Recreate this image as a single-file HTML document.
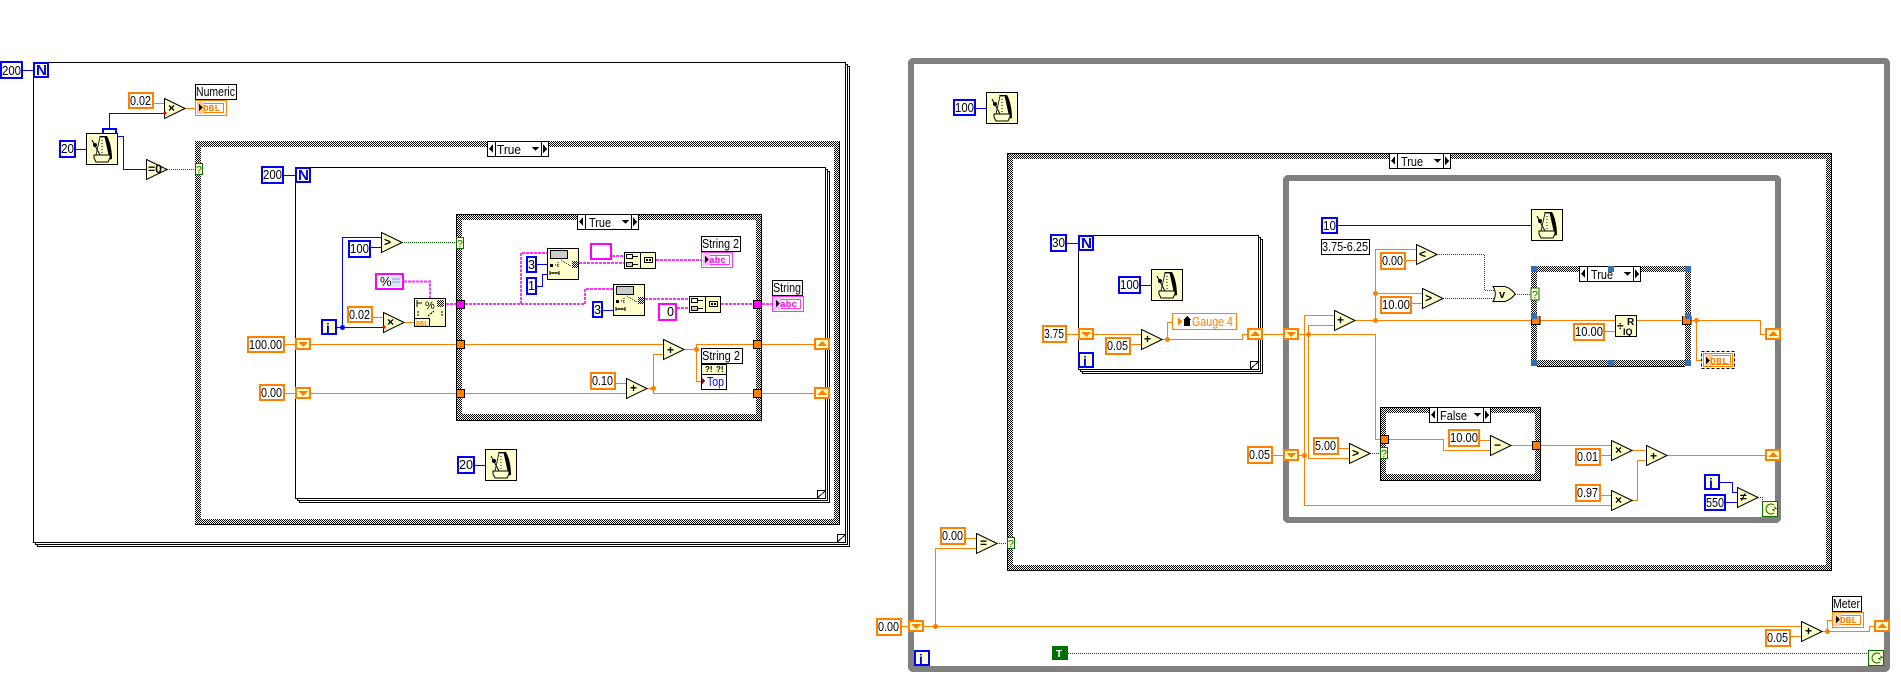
<!DOCTYPE html>
<html><head><meta charset="utf-8"><style>
html,body{margin:0;padding:0;background:#fff;width:1901px;height:697px;overflow:hidden}
svg{display:block}
text{font-family:"Liberation Sans",sans-serif;font-size:13px;fill:#000}
.b{fill:none;stroke:#0000ff;stroke-width:1}
.o{fill:none;stroke:#ff8000;stroke-width:1}
.g{fill:none;stroke:#006400;stroke-width:1;stroke-dasharray:1 1}
.s{fill:none;stroke:#ff33ff;stroke-width:2;stroke-dasharray:3 1}
.co{fill:#fff;stroke:#ff8000;stroke-width:2}
.cb{fill:#fff;stroke:#0000ff;stroke-width:2}
.cp{fill:#fff;stroke:#ff00ff;stroke-width:2}
.n{fill:#ffffcc;stroke:#0000ff;stroke-width:2}
.l{fill:#fff;stroke:#000;stroke-width:1}
.d{fill:#ff8000}
.t{fill:#fff;stroke:#000;stroke-width:1}
.tg{fill:#ffffcc;stroke:#007000;stroke-width:1}
.ct{fill:url(#chk);fill-rule:evenodd}
.bl{fill:none;stroke:#000;stroke-width:1}
.h{fill:#3070c0}
.tri{font-weight:bold;font-size:12px}
.blu{fill:#0000ff;font-weight:bold;font-size:15px}
.dbl{fill:#ff8000;font-weight:bold;font-size:9px;font-family:"Liberation Mono",monospace}
.abc{fill:#ff00ff;font-weight:bold;font-size:9px;font-family:"Liberation Mono",monospace}
</style></head><body>
<svg width="1901" height="697" viewBox="0 0 1901 697" xmlns="http://www.w3.org/2000/svg" shape-rendering="crispEdges">
<defs>
<pattern id="chk" width="2" height="2" patternUnits="userSpaceOnUse">
<rect width="2" height="2" fill="#fff"/><rect width="1" height="1" fill="#000"/><rect x="1" y="1" width="1" height="1" fill="#000"/>
</pattern>
<symbol id="tri" width="22" height="22" viewBox="0 0 22 22"><polygon points="0.5,0.5 21,10.5 0.5,20.5" fill="#ffffcc" stroke="#000" shape-rendering="auto"/></symbol>
<symbol id="met" width="32" height="32" viewBox="0 0 32 32">
<rect x=".5" y=".5" width="31" height="31" fill="#ffffcc" stroke="#000"/>
<g shape-rendering="auto">
<path d="M13 3H21C24 8 26 17 26 26L22 27C22 18 21 10 17 4L15 5Z" fill="#000"/>
<path d="M14 4L10 22H23L19 4Z" fill="#ffffcc" stroke="#000" stroke-width=".8"/>
<path d="M16 7V20" stroke="#000" stroke-dasharray="1 2" fill="none"/>
<path d="M6 7L14 22" stroke="#000" fill="none"/><circle cx="9" cy="12" r="2" fill="#000"/>
<path d="M8 22H24V25L22 29H10L8 25Z" fill="#ffffcc" stroke="#000"/>
</g></symbol>
<symbol id="sd" width="16" height="12" viewBox="0 0 16 12"><rect x="1" y="1" width="14" height="10" fill="#ffffcc" stroke="#ff8000" stroke-width="2"/><polygon points="3,4 13,4 8,9" fill="#ff8000"/></symbol>
<symbol id="su" width="16" height="12" viewBox="0 0 16 12"><rect x="1" y="1" width="14" height="10" fill="#ffffcc" stroke="#ff8000" stroke-width="2"/><polygon points="3,8 13,8 8,3" fill="#ff8000"/></symbol>
<symbol id="sel" width="62" height="16" viewBox="0 0 62 16"><rect x=".5" y=".5" width="61" height="15" fill="#fff" stroke="#000"/><path d="M8.5 0V16M54.5 0V16" stroke="#000"/><polygon points="6,3 6,12 2,8" fill="#000"/><polygon points="56,3 56,12 60,8" fill="#000"/><polygon points="45,6 52,6 48.5,10" fill="#000"/></symbol>
<symbol id="sub" width="32" height="32" viewBox="0 0 32 32"><rect x=".5" y=".5" width="31" height="31" fill="#ffffcc" stroke="#000"/><rect x="3.5" y="2.5" width="17" height="8" fill="#ccc" stroke="#000"/><rect x="3" y="16" width="3" height="3" fill="#000"/><path d="M8 17H12M11 14V19M14 12L24 18" stroke="#000" stroke-dasharray="1 1"/><rect x="25" y="13" width="6" height="7" fill="url(#chk)"/><path d="M3 25H12M3 23V27M12 23V27M6 24V26M9 24V26" stroke="#000"/></symbol>
<symbol id="con" width="32" height="17" viewBox="0 0 32 17"><rect x=".5" y=".5" width="31" height="16" fill="#ffffcc" stroke="#000"/><path d="M16.5 0V17" stroke="#000"/><rect x="2.5" y="2.5" width="6" height="4" fill="#fff" stroke="#000"/><rect x="2.5" y="10.500" width="6" height="4" fill="#ccc" stroke="#000"/><path d="M9 4.500H14M9 12.500H14" stroke="#000"/><rect x="20.500" y="5.500" width="8" height="5" fill="#ffffcc" stroke="#000"/><rect x="22" y="7" width="2" height="2" fill="#000"/><rect x="25" y="7" width="2" height="2" fill="#000"/></symbol>
<symbol id="stop" width="16" height="16" viewBox="0 0 16 16"><rect x=".5" y=".5" width="15" height="15" fill="#ffffcc" stroke="#007000"/><path d="M12 4A5 5 0 1 0 12 12" stroke="#007000" fill="none" shape-rendering="auto"/><polygon points="10,8 15,8 12.5,5 12.5,11" fill="#007000"/></symbol>
</defs>

<!-- LEFT DIAGRAM -->
<rect class="t" x="37.5" y="66.5" width="812" height="480"/><rect class="t" x="35.5" y="64.5" width="812" height="480"/><rect class="t" x="33.5" y="62.5" width="812" height="480"/>
<path class="bl" d="M837.500 542V534.500H845.500L837.500 542"/>
<path class="ct" d="M195 141H840V525H195ZM201 147V519H834V147Z"/>
<path class="bl" d="M839.500 141V524.500H195"/>
<rect class="t" x="299.500" y="171.500" width="530" height="331"/><rect class="t" x="297.500" y="169.500" width="530" height="331"/><rect class="t" x="295.500" y="167.500" width="530" height="331"/>
<path class="bl" d="M817.500 498V490.500H825.500L817.500 498"/>
<path class="ct" d="M456 214H762V420H456ZM462 220V414H756V220Z"/>
<rect class="bl" x="456.500" y="214.500" width="305" height="206"/>

<path class="b" d="M22 70.500H33M76 149.500H86M109.500 128V113.500H164M117 136.500H123.500V169.500H146"/>
<path class="o" d="M154 103.500H164M185 108.500H195"/>
<path class="g" d="M167 169.500H195"/>
<path class="b" d="M283 175.500H295M381 237.500H342.500V327.500H383M321 327.500H342M370 247.500H381M475 465.500H485"/>
<path class="g" d="M402 242.500H456"/>
<path class="o" d="M372 317.500H383M404 322.500H414M285 344.500H295M285 393.500H295M311 344.500H456M311 393.500H456M465 344.500H663M465 393.500H626M615 383.500H626M647 388.500H653.500M653.500 393.500V354.500H663M653.500 393.500H754M684 349.500H696.500V344.500H754M696.500 349.500V381.500H702M762 344.500H814M762 393.500H814"/>
<path class="s" d="M404 281.500H430V298M446 304H456M465 304H585V289H613M521 304V253H547M579 263H624M612 256H624M656 260H702M645 299H689M677 308H689M721 304H754M762 304H772"/>
<path class="b" d="M537 264.500H547M537 286.500H542.500V274.500H547M603 310.500H613"/>
<circle class="d" cx="653.500" cy="388.500" r="2.500" shape-rendering="auto"/><circle class="d" cx="696.500" cy="349.500" r="2.500" shape-rendering="auto"/>
<circle cx="342.500" cy="327.500" r="2.500" fill="#0000ff" shape-rendering="auto"/>

<rect class="cb" x="1" y="62" width="21" height="16"/><text x="2" y="75" textLength="19" lengthAdjust="spacingAndGlyphs">200</text>
<rect class="n" x="34" y="63" width="14" height="14"/><text class="blu" x="36" y="75" font-size="13" textLength="11" lengthAdjust="spacingAndGlyphs">N</text>
<rect class="co" x="129" y="93" width="24" height="15"/><text x="130" y="105" textLength="21" lengthAdjust="spacingAndGlyphs">0.02</text>
<use href="#tri" x="164" y="98"/><text class="tri" x="168" y="112">×</text>
<circle cx="165" cy="113" r="1.500" fill="#ff0000"/>
<rect class="l" x="195.500" y="84.500" width="41" height="15"/><text x="196" y="96" textLength="39" lengthAdjust="spacingAndGlyphs">Numeric</text>
<rect x="195.500" y="100.500" width="31" height="15" fill="#fff" stroke="#ff8000"/><rect x="198.500" y="103.500" width="25" height="9" fill="#fff" stroke="#ff8000"/><rect x="197" y="102" width="7" height="12" fill="#ffcc99"/><polygon points="199,104 199,111 203,107.500" fill="#000"/><text class="dbl" x="203" y="111" textLength="17" lengthAdjust="spacingAndGlyphs">DBL</text>
<rect class="cb" x="103" y="129" width="13" height="12"/>
<use href="#met" x="86" y="133"/>
<rect class="cb" x="60" y="141" width="15" height="16"/><text x="61" y="153" textLength="13" lengthAdjust="spacingAndGlyphs">20</text>
<use href="#tri" x="146" y="159"/><text class="tri" x="148" y="173" font-size="10" textLength="14" lengthAdjust="spacingAndGlyphs">=0</text>
<rect class="tg" x="195.500" y="163.500" width="7" height="11"/><text x="196" y="173" style="font-size:10px;fill:#007000" textLength="6" lengthAdjust="spacingAndGlyphs">?</text>
<use href="#sel" x="487" y="141"/><text x="497" y="154" textLength="24" lengthAdjust="spacingAndGlyphs">True</text>

<rect class="cb" x="262" y="167" width="21" height="16"/><text x="263" y="179" textLength="19" lengthAdjust="spacingAndGlyphs">200</text>
<rect class="n" x="296" y="168" width="14" height="14"/><text class="blu" x="298" y="180" font-size="13" textLength="11" lengthAdjust="spacingAndGlyphs">N</text>
<rect class="cb" x="349" y="241" width="21" height="16"/><text x="350" y="253" textLength="19" lengthAdjust="spacingAndGlyphs">100</text>
<use href="#tri" x="381" y="232"/><text class="tri" x="384" y="246">&gt;</text>
<rect class="tg" x="456.500" y="237.500" width="7" height="11"/><text x="457" y="247" style="font-size:10px;fill:#007000" textLength="6" lengthAdjust="spacingAndGlyphs">?</text>
<use href="#sel" x="577" y="214"/><text x="589" y="227" textLength="22" lengthAdjust="spacingAndGlyphs">True</text>

<rect class="cp" x="376" y="274" width="27" height="15"/><text x="380" y="286">%</text><rect x="391" y="276" width="10" height="11" fill="#dde4ff"/><path d="M392 279H400M392 282H400" stroke="#8899dd"/>
<rect class="n" x="322" y="320" width="14" height="14"/><text class="blu" x="326" y="333" style="font-size:14px">i</text>
<rect class="co" x="348" y="307" width="24" height="15"/><text x="349" y="319" textLength="21" lengthAdjust="spacingAndGlyphs">0.02</text>
<use href="#tri" x="383" y="312"/><text class="tri" x="387" y="326">×</text>
<circle cx="384" cy="327" r="1.500" fill="#ff0000"/>
<rect x="414.500" y="298.500" width="31" height="28" fill="#ffffcc" stroke="#000"/><rect x="414.500" y="318.500" width="15" height="8" fill="#ffffcc" stroke="#000"/><text class="dbl" x="416" y="326" style="font-size:7px" textLength="12" lengthAdjust="spacingAndGlyphs">DBL</text><text x="425" y="309" style="font-size:11px">%</text><rect x="437" y="300" width="7" height="7" fill="url(#chk)"/><path d="M417 300V307M417 303H422" stroke="#000"/><path d="M418 311V316M442 311V316M428 316L434 311" stroke="#000" stroke-dasharray="2 1"/>
<rect class="co" x="248" y="337" width="36" height="15"/><text x="249" y="349" textLength="33" lengthAdjust="spacingAndGlyphs">100.00</text>
<rect class="co" x="260" y="385" width="24" height="15"/><text x="261" y="397" textLength="21" lengthAdjust="spacingAndGlyphs">0.00</text>
<use href="#sd" x="295" y="338"/><use href="#sd" x="295" y="387"/>
<use href="#su" x="814" y="338"/><use href="#su" x="814" y="387"/>
<rect x="456.500" y="300.500" width="8" height="8" fill="#ff00ff" stroke="#000"/><rect x="753.500" y="300.500" width="8" height="8" fill="#ff00ff" stroke="#000"/>
<rect x="456.500" y="340.500" width="8" height="8" fill="#ff8000" stroke="#000"/><rect x="456.500" y="389.500" width="8" height="8" fill="#ff8000" stroke="#000"/>
<rect x="753.500" y="340.500" width="8" height="8" fill="#ff8000" stroke="#000"/><rect x="753.500" y="389.500" width="8" height="8" fill="#ff8000" stroke="#000"/>

<rect class="cb" x="527" y="257" width="9" height="15"/><text x="528" y="269" textLength="7" lengthAdjust="spacingAndGlyphs">3</text>
<rect class="cb" x="527" y="278" width="9" height="16"/><text x="528" y="290" textLength="7" lengthAdjust="spacingAndGlyphs">1</text>
<use href="#sub" x="547" y="248"/><use href="#sub" x="613" y="284"/>
<rect class="cp" x="591" y="244" width="20" height="15"/>
<use href="#con" x="624" y="252"/><use href="#con" x="689" y="296"/>
<rect class="l" x="701.500" y="236.500" width="39" height="15"/><text x="702" y="248" textLength="37" lengthAdjust="spacingAndGlyphs">String 2</text>
<rect x="701.500" y="252.500" width="31" height="15" fill="#fff" stroke="#ff33ff"/><rect x="704.500" y="255.500" width="25" height="9" fill="#fff" stroke="#ff33ff"/><rect x="703" y="254" width="7" height="12" fill="#ffbbff"/><polygon points="705,256 705,263 709,259.500" fill="#000"/><text class="abc" x="709" y="263" textLength="17" lengthAdjust="spacingAndGlyphs">abc</text>
<rect class="cb" x="593" y="302" width="9" height="15"/><text x="594" y="314" textLength="7" lengthAdjust="spacingAndGlyphs">3</text>
<rect class="cp" x="659" y="304" width="17" height="16"/><text x="667" y="316" textLength="7" lengthAdjust="spacingAndGlyphs">0</text>
<rect class="l" x="772.500" y="280.500" width="30" height="15"/><text x="773" y="292" textLength="28" lengthAdjust="spacingAndGlyphs">String</text>
<rect x="772.500" y="296.500" width="31" height="15" fill="#fff" stroke="#ff33ff"/><rect x="775.500" y="299.500" width="25" height="9" fill="#fff" stroke="#ff33ff"/><rect x="774" y="298" width="7" height="12" fill="#ffbbff"/><polygon points="776,300 776,307 780,303.500" fill="#000"/><text class="abc" x="780" y="307" textLength="17" lengthAdjust="spacingAndGlyphs">abc</text>
<rect class="co" x="591" y="373" width="24" height="16"/><text x="592" y="385" textLength="21" lengthAdjust="spacingAndGlyphs">0.10</text>
<use href="#tri" x="626" y="378"/><text class="tri" x="630" y="392">+</text>
<use href="#tri" x="663" y="339"/><text class="tri" x="667" y="354">+</text>
<rect class="l" x="701.500" y="348.500" width="41" height="15"/><text x="702" y="360" textLength="38" lengthAdjust="spacingAndGlyphs">String 2</text>
<rect x="701.500" y="364.500" width="25" height="25" fill="#fff" stroke="#000"/><rect x="702" y="365" width="24" height="9" fill="#ffffcc"/><path d="M702 374.500H726" stroke="#000"/><text x="705" y="372" style="font-size:8px;font-weight:bold">?!</text><text x="716" y="372" style="font-size:8px;font-weight:bold">?!</text>
<text x="707" y="386" style="fill:#0000ff" textLength="17" lengthAdjust="spacingAndGlyphs">Top</text><polygon points="702,378 702,384 705,381" fill="#a00000"/>
<rect class="cb" x="458" y="457" width="16" height="16"/><text x="459" y="469" textLength="14" lengthAdjust="spacingAndGlyphs">20</text>
<use href="#met" x="485" y="449"/>

<!-- RIGHT DIAGRAM -->
<rect x="911" y="61" width="976" height="608" rx="2" fill="#fff" stroke="#808080" stroke-width="6"/>
<path class="ct" d="M1007 153H1832V571H1007ZM1013 159V565H1826V159Z"/>
<rect class="bl" x="1007.500" y="153.500" width="824" height="417"/>
<rect x="1286" y="178" width="492" height="342" rx="2" fill="#fff" stroke="#808080" stroke-width="6"/>
<rect class="t" x="1082.500" y="239.500" width="180" height="134"/><rect class="t" x="1080.500" y="237.500" width="180" height="134"/><rect class="t" x="1078.500" y="235.500" width="180" height="134"/>
<path class="bl" d="M1250.500 369V361.500H1258.500L1250.500 369"/>
<path class="ct" d="M1531 266H1691V366H1531ZM1537 272V360H1685V272Z"/>
<path d="M1537 366.500H1685" stroke="#000" fill="none"/>
<path class="ct" d="M1380 407H1541V480H1380ZM1386 413V474H1535V413Z"/>
<rect class="bl" x="1380.500" y="407.500" width="160" height="73"/>

<path class="b" d="M975 108.500H986M1067 243.500H1078M1141 285.500H1151M1338 225.500H1531M1719 482.500H1732.500V492.500H1737M1726 502.500H1737"/>
<path class="o" d="M966 538.500H976M935.500 626.500V548.500H976M902 626.500H908M924 626.500H1802M1791 636.500H1801M1822 631.500H1869.500V626.500H1874M1827.500 631.500V620.500H1832"/>
<path class="g" d="M997 543.500H1007M1068 653.500H1868"/>
<path class="o" d="M1067 334.500H1078M1094 334.500H1141M1131 344.500H1141M1162 339.500H1242.500V334.500H1247M1167.500 339.500V322.500H1172M1263 334.500H1283M1299 334.500H1375.500V439.500H1381M1308.500 325.500V458.500H1349M1308.500 325.500H1334M1304.500 315.500V505.500H1611M1304.500 315.500H1334M1273 455.500H1283M1299 455.500H1304M1339 448.500H1349"/>
<path class="o" d="M1355 320.500H1531M1375.500 320.500V249.500H1416M1375.500 293.500H1422M1406 260.500H1416M1412 303.500H1422M1540 320.500H1615M1605 331.500H1615M1637 320.500H1682M1691 320.500H1760.500V334.500H1765M1696.500 320.500V360.500H1702"/>
<path class="g" d="M1437 254.500H1484.500V290.500H1495M1443 298.500H1495M1515 294.500H1531M1370 453.500H1381M1758 497.500H1762.500V501"/>
<path class="o" d="M1389 439.500H1443.500V450.500H1491M1480 440.500H1491M1511 445.500H1533M1541 445.500H1611M1601 455.500H1611M1632 450.500H1646M1601 495.500H1611M1632 500.500H1637.500V460.500H1646M1667 455.500H1765"/>
<g shape-rendering="auto"><circle class="d" cx="935.500" cy="626.500" r="2.500"/><circle class="d" cx="1827.500" cy="631.500" r="2.500"/><circle class="d" cx="1167.500" cy="339.500" r="2.500"/><circle class="d" cx="1308.500" cy="334.500" r="2.500"/><circle class="d" cx="1304.500" cy="455.500" r="2.500"/><circle class="d" cx="1375.500" cy="320.500" r="2.500"/><circle class="d" cx="1375.500" cy="293.500" r="2.500"/><circle class="d" cx="1696.500" cy="320.500" r="2.500"/></g>

<rect class="cb" x="954" y="100" width="21" height="15"/><text x="955" y="112" textLength="19" lengthAdjust="spacingAndGlyphs">100</text>
<use href="#met" x="986" y="92"/>
<use href="#sel" x="1389" y="153"/><text x="1401" y="166" textLength="22" lengthAdjust="spacingAndGlyphs">True</text>
<rect class="cb" x="1051" y="235" width="15" height="16"/><text x="1052" y="247" textLength="13" lengthAdjust="spacingAndGlyphs">30</text>
<rect class="n" x="1079" y="236" width="14" height="14"/><text class="blu" x="1081" y="248" font-size="13" textLength="11" lengthAdjust="spacingAndGlyphs">N</text>
<rect class="cb" x="1119" y="277" width="21" height="16"/><text x="1120" y="289" textLength="19" lengthAdjust="spacingAndGlyphs">100</text>
<use href="#met" x="1151" y="269"/>
<rect class="co" x="1043" y="326" width="23" height="16"/><text x="1044" y="338" textLength="20" lengthAdjust="spacingAndGlyphs">3.75</text>
<use href="#sd" x="1078" y="328"/>
<rect class="co" x="1106" y="338" width="24" height="16"/><text x="1107" y="350" textLength="21" lengthAdjust="spacingAndGlyphs">0.05</text>
<use href="#tri" x="1141" y="329"/><text class="tri" x="1144" y="343">+</text>
<rect x="1172.500" y="313.500" width="64" height="16" fill="#fff" stroke="#ff8000"/><polygon points="1178,317 1178,326 1182,321.500" fill="#ff8000"/><polygon points="1187,316 1191.500,320 1190,320 1190,326 1184,326 1184,320 1183,320" fill="#000"/><text x="1192" y="326" style="fill:#ff8000" textLength="41" lengthAdjust="spacingAndGlyphs">Gauge 4</text>
<use href="#su" x="1247" y="328"/>
<use href="#sd" x="1283" y="328"/>
<rect class="n" x="1079" y="353" width="14" height="14"/><text class="blu" x="1083" y="366" style="font-size:14px">i</text>

<rect class="cb" x="1322" y="218" width="15" height="15"/><text x="1323" y="230" textLength="13" lengthAdjust="spacingAndGlyphs">10</text>
<use href="#met" x="1531" y="209"/>
<rect class="l" x="1321.500" y="239.500" width="48" height="15"/><text x="1322" y="251" textLength="46" lengthAdjust="spacingAndGlyphs">3.75-6.25</text>
<rect class="co" x="1381" y="253" width="24" height="16"/><text x="1382" y="265" textLength="21" lengthAdjust="spacingAndGlyphs">0.00</text>
<use href="#tri" x="1416" y="244"/><text class="tri" x="1419" y="258">&lt;</text>
<rect class="co" x="1381" y="297" width="30" height="16"/><text x="1382" y="309" textLength="28" lengthAdjust="spacingAndGlyphs">10.00</text>
<use href="#tri" x="1422" y="288"/><text class="tri" x="1425" y="302">&gt;</text>
<use href="#tri" x="1334" y="310"/><text class="tri" x="1337" y="324">+</text>
<path d="M1493 286.500H1505C1510 288 1514 292 1515 294C1514 296 1510 300 1505 301.500H1493C1496 297 1496 291 1493 286.500Z" fill="#ffffcc" stroke="#000" shape-rendering="auto"/><text class="tri" x="1499" y="298" style="font-size:11px">v</text>
<rect x="1531" y="288" width="8" height="12" fill="#ffffcc" stroke="#007000"/><text x="1532" y="298" style="font-size:10px;fill:#007000" textLength="6" lengthAdjust="spacingAndGlyphs">?</text>
<use href="#sel" x="1579" y="266"/><text x="1591" y="279" textLength="22" lengthAdjust="spacingAndGlyphs">True</text>
<path d="M1531.500 316V324.500H1540V316" fill="#ff8000" stroke="#000"/><path d="M1682.500 316V324.500H1691V316" fill="#ff8000" stroke="#000"/>
<rect class="h" x="1531" y="266" width="6" height="6"/><rect class="h" x="1608" y="266" width="6" height="6"/><rect class="h" x="1685" y="266" width="6" height="6"/><rect class="h" x="1531" y="313" width="6" height="6"/><rect class="h" x="1685" y="313" width="6" height="6"/><rect class="h" x="1531" y="360" width="6" height="6"/><rect class="h" x="1608" y="360" width="6" height="6"/><rect class="h" x="1685" y="360" width="6" height="6"/>
<rect x="1615.500" y="315.500" width="21" height="21" fill="#ffffcc" stroke="#000"/><text x="1617" y="330" style="font-weight:bold;font-size:12px">÷</text><text x="1627" y="325" style="font-weight:bold;font-size:10px">R</text><text x="1623" y="335" style="font-weight:bold;font-size:9px">IQ</text>
<rect class="co" x="1574" y="324" width="30" height="16"/><text x="1575" y="336" textLength="28" lengthAdjust="spacingAndGlyphs">10.00</text>
<use href="#su" x="1765" y="328"/>
<rect x="1701.500" y="351.500" width="33" height="17" fill="#fff" stroke="#000" stroke-dasharray="3 2"/><rect x="1703.500" y="353.500" width="29" height="13" fill="#fff" stroke="#ff8000"/><rect x="1706.500" y="355.500" width="24" height="9" fill="#fff" stroke="#ff8000"/><rect x="1705" y="354" width="7" height="12" fill="#ffcc99"/><polygon points="1706,357 1706,364 1710,360.500" fill="#000"/><text class="dbl" x="1710" y="364" textLength="18" lengthAdjust="spacingAndGlyphs">DBL</text>

<use href="#sel" x="1429" y="407"/><text x="1440" y="420" textLength="27" lengthAdjust="spacingAndGlyphs">False</text>
<rect x="1380.500" y="435.500" width="8" height="8" fill="#ff8000" stroke="#000"/>
<rect x="1532.500" y="441.500" width="8" height="8" fill="#ff8000" stroke="#000"/>
<rect class="tg" x="1380.500" y="447.500" width="7" height="11"/><text x="1381" y="457" style="font-size:10px;fill:#007000" textLength="6" lengthAdjust="spacingAndGlyphs">?</text>
<rect class="co" x="1314" y="438" width="24" height="16"/><text x="1315" y="450" textLength="21" lengthAdjust="spacingAndGlyphs">5.00</text>
<use href="#tri" x="1349" y="443"/><text class="tri" x="1352" y="457">&gt;</text>
<rect class="co" x="1248" y="447" width="24" height="16"/><text x="1249" y="459" textLength="21" lengthAdjust="spacingAndGlyphs">0.05</text>
<use href="#sd" x="1283" y="449"/>
<rect class="co" x="1449" y="430" width="30" height="16"/><text x="1450" y="442" textLength="28" lengthAdjust="spacingAndGlyphs">10.00</text>
<use href="#tri" x="1490" y="435"/><text class="tri" x="1494" y="449">−</text>
<use href="#tri" x="1611" y="440"/><text class="tri" x="1615" y="454">×</text>
<rect class="co" x="1576" y="449" width="24" height="16"/><text x="1577" y="461" textLength="21" lengthAdjust="spacingAndGlyphs">0.01</text>
<use href="#tri" x="1646" y="445"/><text class="tri" x="1650" y="460">+</text>
<use href="#su" x="1765" y="449"/>
<rect class="co" x="1576" y="485" width="24" height="16"/><text x="1577" y="497" textLength="21" lengthAdjust="spacingAndGlyphs">0.97</text>
<use href="#tri" x="1611" y="490"/><text class="tri" x="1615" y="504">×</text>
<rect class="n" x="1705" y="475" width="14" height="14"/><text class="blu" x="1709" y="488" style="font-size:14px">i</text>
<rect class="cb" x="1705" y="495" width="20" height="15"/><text x="1706" y="507" textLength="18" lengthAdjust="spacingAndGlyphs">550</text>
<use href="#tri" x="1737" y="487"/><text class="tri" x="1740" y="501">≠</text>
<use href="#stop" x="1762" y="501"/>

<rect class="co" x="941" y="528" width="24" height="16"/><text x="942" y="540" textLength="21" lengthAdjust="spacingAndGlyphs">0.00</text>
<use href="#tri" x="976" y="533"/><text class="tri" x="980" y="547">=</text>
<rect class="tg" x="1007.500" y="537.500" width="7" height="11"/><text x="1008" y="547" style="font-size:10px;fill:#007000" textLength="6" lengthAdjust="spacingAndGlyphs">?</text>
<rect class="co" x="877" y="619" width="24" height="16"/><text x="878" y="631" textLength="21" lengthAdjust="spacingAndGlyphs">0.00</text>
<use href="#sd" x="908" y="620"/>
<rect class="n" x="915" y="651" width="14" height="14"/><text class="blu" x="919" y="664" style="font-size:14px">i</text>
<rect x="1053" y="647" width="14" height="12" fill="#fff" stroke="#007000" stroke-width="2"/><rect x="1054" y="648" width="12" height="10" fill="#007000"/><text x="1056" y="657" style="font-weight:bold;font-size:10px;fill:#fff">T</text>
<use href="#tri" x="1801" y="621"/><text class="tri" x="1805" y="635">+</text>
<rect class="co" x="1766" y="630" width="24" height="16"/><text x="1767" y="642" textLength="21" lengthAdjust="spacingAndGlyphs">0.05</text>
<rect class="l" x="1832.500" y="596.500" width="29" height="15"/><text x="1833" y="608" textLength="27" lengthAdjust="spacingAndGlyphs">Meter</text>
<rect x="1832.500" y="612.500" width="31" height="15" fill="#fff" stroke="#ff8000"/><rect x="1835.500" y="615.500" width="25" height="9" fill="#fff" stroke="#ff8000"/><rect x="1834" y="614" width="7" height="12" fill="#ffcc99"/><polygon points="1836,616 1836,623 1840,619.500" fill="#000"/><text class="dbl" x="1840" y="623" textLength="17" lengthAdjust="spacingAndGlyphs">DBL</text>
<use href="#su" x="1874" y="620"/>
<use href="#stop" x="1868" y="650"/>
</svg>
</body></html>
